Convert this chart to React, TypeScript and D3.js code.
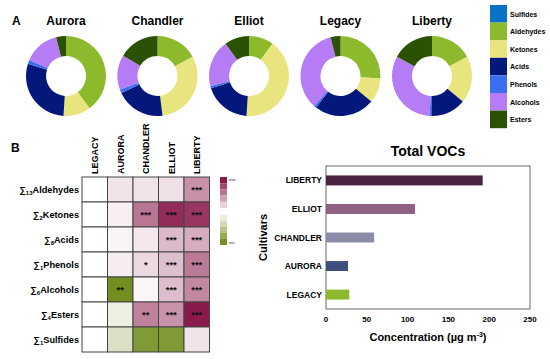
import React from 'react';
import * as d3 from 'd3';

// --- panel A: composition donuts ---
const classes = ['Sulfides', 'Aldehydes', 'Ketones', 'Acids', 'Phenols', 'Alcohols', 'Esters'];
const classColors = ['#0a72c4', '#8dba2c', '#e8e47e', '#04187c', '#3c6ff0', '#b57cf6', '#2b5204'];
const donutCultivars = ['Aurora', 'Chandler', 'Elliot', 'Legacy', 'Liberty'];
const auroraShares = [0, 40, 11, 29, 1.5, 14.5, 4];
const chandlerShares = [0, 17, 31, 20, 1.5, 14, 16.5];
const elliotShares = [0, 10, 41, 19, 1, 19, 10];
const legacyShares = [0, 26, 10, 24.5, 1, 34.5, 4];
const libertyShares = [0, 17, 19, 14, 1, 32, 17];
const donutShares = [auroraShares, chandlerShares, elliotShares, legacyShares, libertyShares];

// --- panel B: heatmap ---
const heatCols = ['LEGACY', 'AURORA', 'CHANDLER', 'ELLIOT', 'LIBERTY'];
const heatRows = [
  { n: '13', name: 'Aldehydes' },
  { n: '2', name: 'Ketones' },
  { n: '8', name: 'Acids' },
  { n: '1', name: 'Phenols' },
  { n: '6', name: 'Alcohols' },
  { n: '4', name: 'Esters' },
  { n: '1', name: 'Sulfides' },
];
const heatValues = [
  [0, 0.12, 0.12, 0.14, 0.48],
  [0, 0.07, 0.6, 0.92, 0.88],
  [0, 0.05, 0.1, 0.3, 0.36],
  [0, 0.08, 0.16, 0.28, 0.58],
  [0, -0.95, 0.04, 0.29, 0.52],
  [0, -0.12, 0.55, 0.47, 1.0],
  [0, -0.25, -0.85, -0.85, 0.12],
];
const heatStars = [
  ['', '', '', '', '***'],
  ['', '', '***', '***', '***'],
  ['', '', '', '***', '***'],
  ['', '', '*', '***', '***'],
  ['', '**', '', '***', '***'],
  ['', '', '**', '***', '***'],
  ['', '', '', '', ''],
];
const legendMax = [1, 0.8, 0.6, 0.4, 0.2];
const legendMin = [-0.15, -0.3, -0.5, -0.7, -0.92];

// --- total VOCs bars ---
const barCultivars = ['LIBERTY', 'ELLIOT', 'CHANDLER', 'AURORA', 'LEGACY'];
const barValues = [192, 109, 59, 27, 28.5];
const barColors = ['#4b2441', '#8f6185', '#8a8aa9', '#3f4f7b', '#8dba2c'];
const xTicks = [0, 50, 100, 150, 200, 250];

const font = '"Liberation Sans", Arial, sans-serif';

export default function App() {
  const donutX = d3.scalePoint<string>().domain(donutCultivars).range([66, 432]);
  const pie = d3.pie<number>().sort(null).value((d) => d);
  const arc = d3.arc<d3.PieArcDatum<number>>().innerRadius(20).outerRadius(40);

  const hx = d3.scaleBand().domain(heatCols).range([82, 209.5]);
  const hy = d3.scaleBand().domain(heatRows.map((r) => r.name)).range([177, 352]);
  const heatColor = d3
    .scaleLinear<string>()
    .domain([-1, 0, 1])
    .range(['#6a8812', '#ffffff', '#8a1a4b']);

  const bx = d3.scaleLinear().domain([0, 250]).range([326, 530]);
  const by = d3.scaleBand().domain(barCultivars).range([166, 309]).paddingInner(0.65).paddingOuter(0.33);

  return (
    <svg
      width={550}
      height={359}
      style={{ position: 'absolute', left: 0, top: 0, background: '#fff' }}
      fontFamily={font}
    >
      {/* panel A */}
      <text x={12} y={25} fontSize={12} fontWeight="bold">A</text>
      {donutCultivars.map((c, i) => (
        <g key={c} transform={`translate(${donutX(c)},76)`}>
          <text y={-51} textAnchor="middle" fontSize={12} fontWeight="bold">{c}</text>
          {pie(donutShares[i]).map((s, j) => (
            <path key={j} d={arc(s) || ''} fill={classColors[j]} />
          ))}
        </g>
      ))}
      {classes.map((c, i) => (
        <g key={c}>
          <rect x={490} y={5 + i * 17.6} width={17} height={17.6} fill={classColors[i]} />
          <text x={510} y={5 + i * 17.6 + 11.5} fontSize={7} fontWeight="bold">{c}</text>
        </g>
      ))}

      {/* panel B */}
      <text x={11} y={152} fontSize={12} fontWeight="bold">B</text>
      {heatCols.map((c) => (
        <text
          key={c}
          transform={`translate(${hx(c)! + hx.bandwidth() / 2 + 3.5},174) rotate(-90)`}
          fontSize={9}
          fontWeight="bold"
        >
          {c}
        </text>
      ))}
      {heatRows.map((r, i) => (
        <g key={r.name}>
          <text x={79} y={hy(r.name)! + hy.bandwidth() / 2 + 3.5} textAnchor="end" fontSize={9.2} fontWeight="bold">
            {'∑'}
            <tspan fontSize={6} dy={2}>{r.n}</tspan>
            <tspan dy={-2}>{r.name}</tspan>
          </text>
          {heatCols.map((c, j) => (
            <g key={c}>
              <rect
                x={hx(c)}
                y={hy(r.name)}
                width={hx.bandwidth()}
                height={hy.bandwidth()}
                fill={heatColor(heatValues[i][j])}
                stroke="#444"
                strokeWidth={1}
              />
              <text
                x={hx(c)! + hx.bandwidth() / 2}
                y={hy(r.name)! + hy.bandwidth() / 2 + 3.5}
                textAnchor="middle"
                fontSize={9.5}
                fontWeight="bold"
                fill="#111"
              >
                {heatStars[i][j]}
              </text>
            </g>
          ))}
        </g>
      ))}
      {legendMax.map((v, i) => (
        <rect key={'mx' + i} x={220} y={177 + i * 6.2} width={7} height={6.2} fill={heatColor(v)} />
      ))}
      {legendMin.map((v, i) => (
        <rect key={'mn' + i} x={220} y={215 + i * 6} width={7} height={6} fill={heatColor(v)} />
      ))}
      <text x={229} y={181} fontSize={3.5} fill="#333">max</text>
      <text x={229} y={244} fontSize={3.5} fill="#333">min</text>

      {/* total VOCs */}
      <text x={428} y={156} textAnchor="middle" fontSize={14} fontWeight="bold">Total VOCs</text>
      <rect x={326} y={166} width={204} height={143} fill="none" stroke="#8a8a8a" strokeWidth={1.3} />
      {barCultivars.map((c, i) => (
        <g key={c}>
          <rect x={bx(0)} y={by(c)} width={bx(barValues[i]) - bx(0)} height={by.bandwidth()} fill={barColors[i]} />
          <text x={322} y={by(c)! + by.bandwidth() / 2 + 3} textAnchor="end" fontSize={8.5} fontWeight="bold">{c}</text>
        </g>
      ))}
      {xTicks.map((t) => (
        <text key={t} x={bx(t)} y={322} textAnchor="middle" fontSize={8} fontWeight="bold">{t}</text>
      ))}
      <text x={428} y={341} textAnchor="middle" fontSize={11} fontWeight="bold">
        Concentration (µg m<tspan fontSize={7} dy={-4}>-3</tspan><tspan dy={4}>)</tspan>
      </text>
      <text transform="translate(267,237.5) rotate(-90)" textAnchor="middle" fontSize={11} fontWeight="bold">Cultivars</text>
    </svg>
  );
}
